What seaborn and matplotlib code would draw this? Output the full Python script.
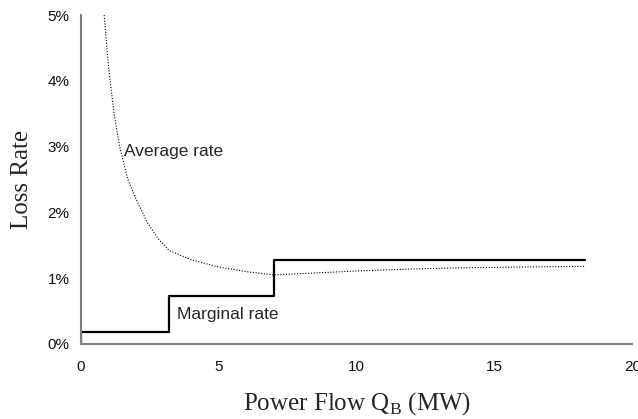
import pandas as pd
import matplotlib
matplotlib.use('Agg')
import matplotlib.pyplot as plt
import seaborn as sns

# marginal loss rate (%), step function
marg_x = [0.0, 0.0, 3.2, 7.0, 18.3]
marg_y = [0.0, 0.18, 0.73, 1.27, 1.27]

# average loss rate (%)
avg_x = [0.84, 1.0, 1.2, 1.4, 1.7, 2.0, 2.4, 2.8, 3.2, 4.0, 5.0, 6.0, 7.0,
         8.0, 10.0, 12.0, 14.0, 16.0, 18.3]
avg_y = [5.0, 4.2, 3.5, 3.0, 2.5, 2.2, 1.85, 1.6, 1.42, 1.28, 1.17, 1.10, 1.05,
         1.07, 1.11, 1.14, 1.16, 1.17, 1.18]

x_ticks = [0, 5, 10, 15, 20]
y_ticks = [0, 1, 2, 3, 4, 5]

sns.set_style('white')
plt.rcParams['font.family'] = ['Liberation Sans', 'DejaVu Sans']
plt.rcParams['mathtext.fontset'] = 'custom'
plt.rcParams['mathtext.rm'] = 'Liberation Serif'

marg = pd.DataFrame({'x': marg_x, 'y': marg_y})
avg = pd.DataFrame({'x': avg_x, 'y': avg_y})

fig = plt.figure(figsize=(6.38, 4.19), dpi=100)
ax = fig.add_axes([0.127, 0.179, 0.864, 0.785])

sns.lineplot(data=avg, x='x', y='y', ax=ax, estimator=None, sort=False,
             color='black', linewidth=0.8, linestyle=(0, (1, 1.5)))
sns.lineplot(data=marg, x='x', y='y', ax=ax, estimator=None, sort=False,
             color='black', linewidth=1.6, drawstyle='steps-post')

ax.set_xlim(0, 20)
ax.set_ylim(0, 5)
ax.set_xticks(x_ticks)
ax.set_yticks(y_ticks)
ax.set_yticklabels([f'{t}%' for t in y_ticks])
ax.tick_params(axis='both', direction='inout', length=6.5, width=1,
               color='black', labelsize=11, labelcolor='#111111')
ax.tick_params(axis='x', pad=8)
ax.tick_params(axis='y', pad=5)

for s in ['top', 'right']:
    ax.spines[s].set_visible(False)
for s in ['left', 'bottom']:
    ax.spines[s].set_color('#808080')
    ax.spines[s].set_linewidth(1.5)

ax.set_xlabel(r'Power Flow Q$_\mathrm{B}$ (MW)', family='Liberation Serif',
              fontsize=18, labelpad=12)
ax.set_ylabel('Loss Rate', family='Liberation Serif', fontsize=18)
ax.yaxis.set_label_coords(-0.087, 0.5)

ax.text(1.55, 2.92, 'Average rate', fontsize=12.5, va='center', ha='left')
ax.text(3.47, 0.45, 'Marginal rate', fontsize=12.5, va='center', ha='left')

fig.savefig('out.png', dpi=100)
